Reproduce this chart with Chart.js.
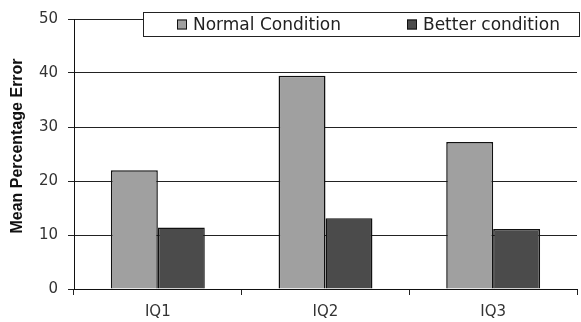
<!DOCTYPE html>
<html>
<head>
<meta charset="utf-8">
<script src="https://cdn.jsdelivr.net/npm/chart.js@4/dist/chart.umd.min.js"></script>
<style>
  html, body { margin: 0; padding: 0; background: #fff; }
  #wrap { width: 581px; height: 322px; position: relative; }
</style>
</head>
<body>
<div id="wrap"><canvas id="c" width="581" height="322"></canvas></div>
<script>
// Mean percentage error per interval question
const categories = ['IQ1', 'IQ2', 'IQ3'];
const normalCondition = [22.0, 39.5, 27.2];
const betterCondition = [11.4, 13.1, 11.1];
const seriesNames = ['Normal Condition', 'Better condition'];
const yTicks = [0, 10, 20, 30, 40, 50];
const yTitle = 'Mean Percentage Error';

const TICK_FONT = { family: 'DejaVu Sans', size: 15 };

// Boxed legend drawn over the top-right of the plot area
const boxLegend = {
  id: 'boxLegend',
  afterDraw(chart) {
    const { ctx, chartArea } = chart;
    const x0 = chartArea.left + 69, y0 = chartArea.top - 7;
    const x1 = chart.width - 1, y1 = chartArea.top + 18;
    ctx.save();
    ctx.fillStyle = '#fff';
    ctx.fillRect(x0, y0, x1 - x0, y1 - y0);
    ctx.strokeStyle = '#222';
    ctx.lineWidth = 1;
    ctx.strokeRect(x0 + 0.5, y0 + 0.5, x1 - x0 - 1, y1 - y0 - 1);
    ctx.font = '17px "DejaVu Sans"';
    ctx.textBaseline = 'middle';
    const cy = (y0 + y1) / 2;
    const starts = [x0 + 34, x0 + 264];
    chart.data.datasets.forEach((ds, i) => {
      const sx = starts[i];
      ctx.fillStyle = ds.backgroundColor;
      ctx.fillRect(sx, cy - 5, 10, 10);
      ctx.strokeStyle = '#111';
      ctx.strokeRect(sx + 0.5, cy - 4.5, 9, 9);
      ctx.fillStyle = '#222';
      ctx.fillText(ds.label, sx + 16, cy + 1);
    });
    ctx.restore();
  }
};

// Rotated bold y-axis title
const yTitlePlugin = {
  id: 'yTitlePlugin',
  afterDraw(chart) {
    const { ctx, chartArea } = chart;
    ctx.save();
    ctx.translate(18, (chartArea.top + chartArea.bottom) / 2 - 8);
    ctx.rotate(-Math.PI / 2);
    ctx.font = 'bold 16px "Liberation Sans"';
    ctx.fillStyle = '#111';
    ctx.textAlign = 'center';
    ctx.textBaseline = 'middle';
    ctx.fillText(yTitle, 0, 0);
    ctx.restore();
  }
};

new Chart(document.getElementById('c'), {
  type: 'bar',
  data: {
    labels: categories,
    datasets: [
      { label: seriesNames[0], data: normalCondition, backgroundColor: '#a0a0a0',
        borderColor: '#111', borderWidth: 1.5 },
      { label: seriesNames[1], data: betterCondition, backgroundColor: '#4b4b4b',
        borderColor: '#111', borderWidth: 1.5 }
    ]
  },
  options: {
    responsive: false,
    animation: false,
    devicePixelRatio: 1,
    layout: { padding: { top: 19, right: 4, left: 0, bottom: 0 } },
    datasets: { bar: { categoryPercentage: 0.56, barPercentage: 1.0 } },
    plugins: { legend: { display: false }, tooltip: { enabled: false } },
    scales: {
      x: {
        offset: true,
        grid: { offset: true, drawOnChartArea: false, drawTicks: true, tickLength: 6, color: '#222' },
        border: { color: '#111', width: 1 },
        ticks: { font: TICK_FONT, color: '#333', padding: 8 },
        afterFit(scale) { scale.height = 33; }
      },
      y: {
        min: 0, max: 50,
        afterBuildTicks(scale) { scale.ticks = yTicks.map(v => ({ value: v })); },
        grid: { color: '#222', lineWidth: 1, tickLength: 6 },
        border: { color: '#111', width: 1 },
        ticks: { font: TICK_FONT, color: '#333', padding: 10 },
        afterFit(scale) { scale.width = 74; }
      }
    }
  },
  plugins: [boxLegend, yTitlePlugin]
});
</script>
</body>
</html>
